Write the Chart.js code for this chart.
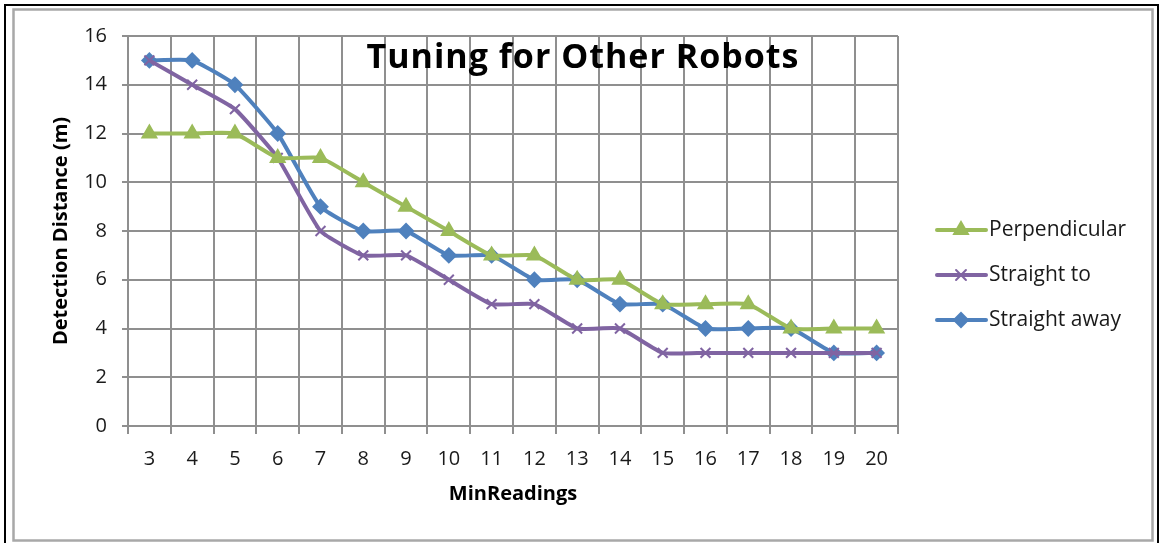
<!DOCTYPE html>
<html>
<head>
<meta charset="utf-8">
<script src="https://cdn.jsdelivr.net/npm/chart.js@4/dist/chart.umd.min.js"></script>
<style>
  html, body { margin: 0; padding: 0; background: #ffffff; }
  #wrap { width: 1160px; height: 543px; }
</style>
</head>
<body>
<div id="wrap"><canvas id="chart" width="1160" height="543"></canvas></div>
<script>
// MinReadings setting on the x axis
const minReadings = ['3', '4', '5', '6', '7', '8', '9', '10', '11', '12', '13', '14', '15', '16', '17', '18', '19', '20'];

// Detection distance (m) for each approach direction
const perpendicular = [12, 12, 12, 11, 11, 10, 9, 8, 7, 7, 6, 6, 5, 5, 5, 4, 4, 4];
const straightTo    = [15, 14, 13, 11, 8, 7, 7, 6, 5, 5, 4, 4, 3, 3, 3, 3, 3, 3];
const straightAway  = [15, 15, 14, 12, 9, 8, 8, 7, 7, 6, 6, 5, 5, 4, 4, 4, 3, 3];

const seriesNames = ['Perpendicular', 'Straight to', 'Straight away'];
const chartTitle = 'Tuning for Other Robots';
const xTitle = 'MinReadings';
const yTitle = 'Detection Distance (m)';

const FONT = '"Open Sans", Lato, "DejaVu Sans", sans-serif';
const GREEN = '#9bbb59', PURPLE = '#8064a2', BLUE = '#4f81bd';
const GRID = '#8f8f8f';

function series(label, data, color, pointStyle, radius) {
  return {
    label, data,
    borderColor: color, backgroundColor: color,
    pointBackgroundColor: color, pointBorderColor: color,
    borderWidth: 4, pointStyle, pointRadius: radius, pointBorderWidth: 2,
    pointHoverRadius: radius, tension: 0.14, fill: false
  };
}

// Frame, overlaid title and a line+marker legend
const decorations = {
  id: 'decorations',
  beforeDraw(chart) {
    const ctx = chart.ctx;
    ctx.save();
    ctx.fillStyle = '#ffffff';
    ctx.fillRect(0, 0, chart.width, chart.height);
    ctx.lineWidth = 2;
    ctx.strokeStyle = '#000000';
    ctx.strokeRect(5, 5, 1153, 560);
    ctx.lineWidth = 2.5;
    ctx.strokeStyle = '#a8a8a8';
    ctx.strokeRect(13.5, 9.5, 1139, 531);
    ctx.restore();
  },
  afterDraw(chart) {
    const ctx = chart.ctx;
    ctx.save();
    ctx.fillStyle = '#000000';
    ctx.font = 'bold 34px ' + FONT;
    ctx.letterSpacing = '1px';
    ctx.textAlign = 'center';
    ctx.textBaseline = 'middle';
    ctx.fillText(chartTitle, 583, 58);
    ctx.letterSpacing = '0px';

    const rows = [230, 275, 320];
    chart.data.datasets.forEach((ds, i) => {
      const y = rows[i];
      ctx.strokeStyle = ds.borderColor;
      ctx.lineWidth = 4;
      ctx.lineCap = 'round';
      ctx.beginPath();
      ctx.moveTo(937, y);
      ctx.lineTo(986, y);
      ctx.stroke();
      ctx.fillStyle = ds.pointBackgroundColor;
      ctx.strokeStyle = ds.pointBorderColor;
      ctx.lineWidth = 2;
      Chart.helpers.drawPoint(ctx, { pointStyle: ds.pointStyle, radius: ds.pointRadius, rotation: 0, borderWidth: 2 }, 961, y);
      ctx.fillStyle = '#1a1a1a';
      ctx.font = '21px ' + FONT;
      ctx.textAlign = 'left';
      ctx.textBaseline = 'middle';
      ctx.fillText(ds.label, 989, y);
    });
    ctx.restore();
  }
};

new Chart(document.getElementById('chart'), {
  type: 'line',
  data: {
    labels: minReadings,
    datasets: [
      series(seriesNames[0], perpendicular, GREEN, 'triangle', 8),
      series(seriesNames[1], straightTo, PURPLE, 'crossRot', 7),
      series(seriesNames[2], straightAway, BLUE, 'rectRot', 7)
    ]
  },
  options: {
    responsive: false,
    animation: false,
    events: [],
    layout: { padding: { left: 48, top: 36, right: 262, bottom: 37 } },
    plugins: { legend: { display: false }, title: { display: false }, tooltip: { enabled: false } },
    scales: {
      x: {
        offset: true,
        grid: { offset: true, color: GRID, lineWidth: 2, tickLength: 8, drawOnChartArea: true },
        border: { color: GRID, width: 2 },
        ticks: { color: '#1a1a1a', font: { family: FONT, size: 20 }, padding: 13, maxRotation: 0, autoSkip: false },
        title: { display: true, text: xTitle, color: '#000000', font: { family: FONT, size: 20, weight: 'bold' }, padding: { top: 4, bottom: 0 } },
        afterFit(scale) { scale.height = 80; }
      },
      y: {
        min: 0, max: 16,
        grid: { color: GRID, lineWidth: 2, tickLength: 6 },
        border: { color: GRID, width: 2 },
        ticks: { stepSize: 2, color: '#1a1a1a', font: { family: FONT, size: 20 }, padding: 15 },
        title: { display: true, text: yTitle, color: '#000000', font: { family: FONT, size: 20, weight: 'bold' }, padding: { top: 1, bottom: 0 } },
        afterFit(scale) { scale.width = 80; }
      }
    }
  },
  plugins: [decorations]
});
</script>
</body>
</html>
